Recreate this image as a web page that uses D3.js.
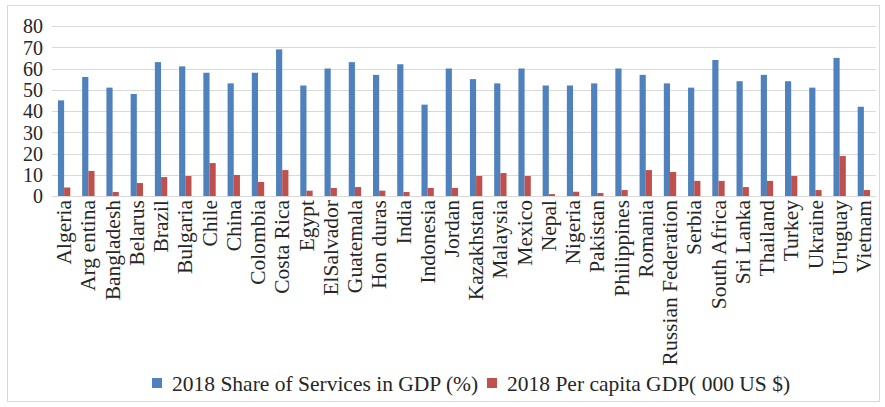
<!DOCTYPE html>
<html>
<head>
<meta charset="utf-8">
<script src="https://cdn.jsdelivr.net/npm/d3@7"></script>
<style>
  html, body { margin: 0; padding: 0; background: #fff; }
  svg { display: block; }
</style>
</head>
<body>
<svg id="chart" width="885" height="407"></svg>
<script>
// Countries on the category axis
const countries = [
  "Algeria", "Arg entina", "Bangladesh", "Belarus", "Brazil", "Bulgaria", "Chile",
  "China", "Colombia", "Costa Rica", "Egypt", "ElSalvador", "Guatemala", "Hon duras",
  "India", "Indonesia", "Jordan", "Kazakhstan", "Malaysia", "Mexico", "Nepal",
  "Nigeria", "Pakistan", "Philippines", "Romania", "Russian Federation", "Serbia",
  "South Africa", "Sri Lanka", "Thailand", "Turkey", "Ukraine", "Uruguay", "Vietnam"
];

// 2018 share of services in GDP (%)
const servicesShare = [
  45, 56, 51, 48, 63, 61, 58, 53, 58, 69, 52, 60, 63, 57, 62, 43, 60,
  55, 53, 60, 52, 52, 53, 60, 57, 53, 51, 64, 54, 57, 54, 51, 65, 42
];

// 2018 per capita GDP (thousand US $)
const perCapitaGDP = [
  4.0, 11.8, 1.9, 6.1, 8.9, 9.4, 15.5, 9.9, 6.6, 12.2, 2.5, 3.8, 4.2, 2.5, 1.9, 3.8, 3.8,
  9.4, 10.8, 9.4, 0.9, 2.0, 1.4, 2.8, 12.2, 11.3, 7.1, 7.1, 4.2, 7.1, 9.4, 2.8, 18.8, 2.8
];

const yTicks = [0, 10, 20, 30, 40, 50, 60, 70, 80];

const seriesNames = ["2018 Share of Services in GDP (%)", "2018 Per capita GDP( 000 US $)"];
const seriesColors = ["#4f81bd", "#c0504d"];

const FONT = "'Liberation Serif', Tinos, 'DejaVu Serif', 'Times New Roman', serif";
const textColor = "#262626";

const svg = d3.select("#chart");

// outer chart frame
svg.append("rect")
  .attr("x", 7.5).attr("y", 5.5)
  .attr("width", 872).attr("height", 396)
  .attr("fill", "#fff").attr("stroke", "#d9d9d9").attr("stroke-width", 1);

const plot = { left: 52, right: 876, top: 26, bottom: 196 };

const x = d3.scaleBand()
  .domain(countries)
  .range([plot.left, plot.right])
  .paddingInner(0).paddingOuter(0);

const x1 = d3.scaleBand()
  .domain([0, 1])
  .range([0, x.bandwidth()])
  .paddingInner(0.0)
  .paddingOuter(0.96);

const y = d3.scaleLinear().domain([0, 80]).range([plot.bottom, plot.top]);

// horizontal gridlines
svg.append("g")
  .selectAll("line")
  .data(yTicks)
  .join("line")
  .attr("x1", plot.left).attr("x2", plot.right)
  .attr("y1", d => Math.round(y(d)) + 0.5).attr("y2", d => Math.round(y(d)) + 0.5)
  .attr("stroke", "#d9d9d9").attr("stroke-width", 1.2);

// y axis labels
const yAxis = d3.axisLeft(y).tickValues(yTicks).tickSize(0).tickPadding(9);
const gy = svg.append("g").attr("transform", `translate(${plot.left},0)`).call(yAxis)
  .attr("font-family", FONT).attr("font-size", 20);
gy.select(".domain").remove();
gy.selectAll("text").attr("fill", textColor).attr("dy", "0.34em");

// bars
const seriesData = [servicesShare, perCapitaGDP];
const groups = svg.append("g")
  .selectAll("g")
  .data(countries)
  .join("g")
  .attr("transform", d => `translate(${x(d)},0)`);

groups.selectAll("rect")
  .data((d, i) => seriesData.map((s, k) => ({ k, v: s[i] })))
  .join("rect")
  .attr("x", d => x1(d.k))
  .attr("width", x1.bandwidth())
  .attr("y", d => y(d.v))
  .attr("height", d => y(0) - y(d.v))
  .attr("fill", d => seriesColors[d.k]);

// x axis with rotated country names
const xAxis = d3.axisBottom(x).tickSize(0).tickPadding(4);
const gx = svg.append("g").attr("transform", `translate(0,${plot.bottom})`).call(xAxis)
  .attr("font-family", FONT).attr("font-size", 21.5);
gx.select(".domain").remove();
gx.selectAll("text")
  .attr("fill", textColor)
  .attr("text-anchor", "end")
  .attr("transform", "rotate(-90)")
  .attr("x", -4)
  .attr("y", 0)
  .attr("dx", 0)
  .attr("dy", "0.33em");

// legend
const legendItems = [
  { name: seriesNames[0], color: seriesColors[0], x: 152 },
  { name: seriesNames[1], color: seriesColors[1], x: 487 }
];
const lg = svg.append("g").attr("font-family", FONT).attr("font-size", 21.5);
legendItems.forEach(it => {
  lg.append("rect")
    .attr("x", it.x).attr("y", 378)
    .attr("width", 10).attr("height", 10)
    .attr("fill", it.color);
  lg.append("text")
    .attr("x", it.x + 20).attr("y", 390.5)
    .attr("fill", textColor)
    .text(it.name);
});
</script>
</body>
</html>
